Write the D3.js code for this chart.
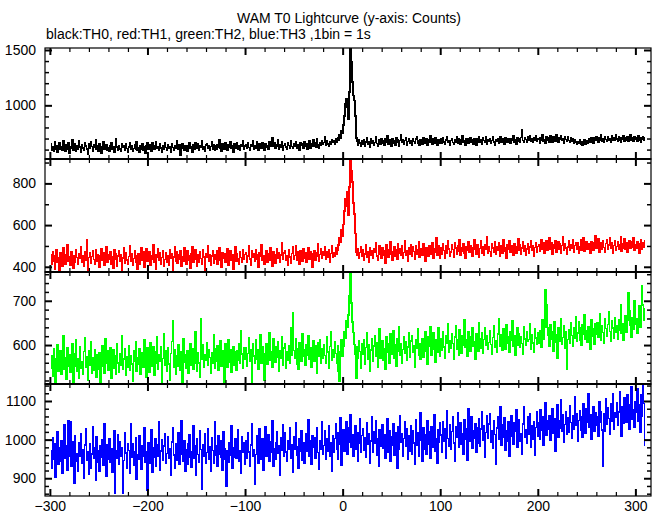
<!DOCTYPE html>
<html><head><meta charset="utf-8">
<script src="https://cdn.jsdelivr.net/npm/d3@7"></script>
<style>body{margin:0;background:#fff}svg{display:block}text{font-family:"Liberation Sans",Arial,Helvetica,sans-serif}</style>
</head><body><svg id="c" width="661" height="515"></svg>
<script>
const title = "WAM T0 Lightcurve (y-axis: Counts)";
const subtitle = "black:TH0, red:TH1, green:TH2, blue:TH3 ,1bin = 1s";
const tStart = -299;
const binSize = 1;
const xMajorTicks = [-300, -200, -100, 0, 100, 200, 300];
const seriesNames = ["TH0", "TH1", "TH2", "TH3"];
const seriesColors = ["#000000", "#ff0000", "#00ff00", "#0000ff"];
const yDomains = [[515, 1518], [375, 917], [512, 765], [854, 1144]];
const yMajorTicks = [[1000, 1500], [400, 600, 800], [600, 700], [900, 1000, 1100]];
const yMinorStep = [100, 100, 20, 20];

const th0 = [
652,596,623,585,670,607,636,572,615,658,
601,630,590,682,620,582,641,607,665,567,
628,610,687,593,618,652,585,638,604,676,
623,577,646,615,596,665,633,606,562,650,
609,668,626,588,641,617,686,599,634,582,
654,612,570,630,671,602,620,647,593,617,
585,639,660,606,626,572,614,697,622,598,
636,607,586,657,617,631,596,650,610,575,
622,665,601,636,583,612,646,606,671,593,
618,578,638,607,652,598,625,564,633,660,
604,646,617,583,660,627,599,636,673,612,
630,591,651,615,579,638,603,663,620,596,
644,609,627,572,655,617,590,635,614,681,
623,599,643,545,609,652,630,595,638,615,
587,631,660,614,625,575,646,604,665,622,
611,649,593,635,619,676,601,628,583,643,
655,615,636,598,627,667,607,644,590,631,
604,641,620,691,612,585,651,625,606,662,
628,595,647,617,673,609,633,580,654,623,
614,659,603,636,590,644,627,681,607,633,
642,608,659,621,595,648,629,682,606,635,
616,669,624,590,651,634,610,664,640,598,
656,619,638,602,675,626,646,705,634,661,
611,648,627,688,605,640,618,667,594,637,
653,622,600,658,635,614,682,629,608,650,
630,670,610,645,624,595,664,638,653,616,
669,629,650,603,638,680,616,656,630,690,
634,658,621,700,644,615,664,636,682,650,
664,715,640,684,652,628,673,648,692,662,
680,648,698,662,710,684,735,705,770,745,
820,905,1010,1060,985,870,1120,1510,1395,1210,
1090,1045,905,705,676,641,691,660,633,683,
651,692,633,670,705,646,675,624,699,660,
684,638,665,715,656,630,689,672,648,702,
657,678,635,696,668,723,649,686,664,628,
697,654,676,640,705,667,688,633,680,737,
664,691,646,681,708,636,672,699,657,684,
643,702,673,654,694,716,659,680,635,689,
670,649,707,678,656,697,641,686,667,726,
676,652,694,659,704,670,641,689,681,654,
694,659,705,670,648,688,715,665,683,641,
680,702,662,644,691,668,712,656,697,673,
652,688,726,667,681,641,702,676,659,696,
708,665,686,651,700,678,640,694,670,715,
662,689,652,704,680,667,718,649,692,675,
697,656,683,712,668,643,691,673,702,660,
684,713,664,694,672,651,705,681,662,699,
675,657,697,686,723,667,692,652,707,678,
696,670,710,780,681,664,704,689,668,713,
688,724,675,700,662,708,683,729,673,694,
698,661,710,685,731,674,691,656,715,680,
706,670,725,688,664,714,694,677,736,685,
667,707,690,726,680,701,659,718,691,672,
712,683,662,704,675,694,654,688,669,648,
672,655,690,648,675,640,668,685,652,679,
660,677,696,668,708,685,661,703,680,720,
690,669,711,684,730,676,700,663,719,693,
672,714,687,701,666,725,682,704,680,732,
696,677,717,688,670,710,692,727,679,703,
684,720,672,698,733,687,707,673,712,690,
703,677,725,685,711,668,696,719,682,704
];

const th1 = [
456,410,474,428,389,451,481,420,441,381,
466,431,402,490,440,414,460,505,427,448,
406,470,436,391,455,424,481,444,412,463,
439,497,421,451,401,474,432,530,385,445,
468,417,449,475,435,410,481,425,460,441,
397,454,486,429,466,408,444,495,422,456,
436,471,413,448,393,482,437,462,404,452,
478,425,458,380,443,489,418,467,433,410,
449,501,428,464,405,439,476,421,454,390,
462,414,445,491,431,470,400,451,485,427,
443,474,409,455,435,506,424,459,387,448,
487,429,466,413,444,478,401,436,468,420,
452,408,482,440,463,383,447,494,428,471,
416,460,437,479,402,449,425,489,440,410,
475,432,455,395,464,498,421,445,481,436,
401,456,424,472,439,412,483,447,379,463,
444,503,427,460,408,451,475,418,456,435,
479,414,448,491,431,398,468,440,463,422,
454,485,405,443,478,433,458,387,449,497,
428,464,440,412,474,445,422,481,437,459,
467,420,452,499,437,406,475,444,463,425,
483,435,459,399,468,449,506,429,453,410,
445,478,422,461,433,493,443,403,472,453,
417,460,486,439,468,424,457,514,436,466,
475,429,451,408,480,447,418,463,495,437,
455,503,433,471,440,412,478,452,428,486,
443,466,421,457,491,436,472,447,399,461,
479,432,467,449,509,426,460,488,439,470,
453,498,435,472,447,482,424,463,503,444,
468,452,491,460,478,505,540,520,580,545,
602,668,724,692,758,645,782,925,862,806,
705,652,560,472,455,486,441,468,497,452,
483,431,462,506,446,472,420,493,456,479,
439,487,468,515,452,429,474,499,460,443,
491,454,476,415,507,469,447,484,519,461,
430,472,496,450,480,435,511,465,487,456,
501,442,468,526,457,477,426,489,462,508,
452,495,473,437,503,460,483,519,445,470,
485,456,510,466,427,492,474,449,500,480,
461,514,443,488,469,539,454,479,503,439,
493,460,512,477,443,500,467,524,486,451,
470,506,482,448,517,489,458,501,475,532,
455,491,473,510,463,439,497,481,521,469,
502,474,451,493,529,485,462,508,477,446,
487,524,467,498,456,505,482,544,464,494,
473,452,509,489,470,520,458,496,479,514,
450,500,483,464,528,475,493,443,505,486,
523,471,502,481,455,512,490,467,497,535,
478,506,460,490,518,473,501,456,486,509,
466,494,525,479,502,451,492,514,471,497,
508,474,499,531,485,516,466,495,524,478,
501,537,482,513,462,504,489,526,471,497,
520,486,509,467,501,543,481,512,491,460,
495,525,477,506,487,532,470,502,517,485,
513,466,498,528,481,505,539,475,494,518,
483,509,490,463,522,499,478,514,547,487,
504,535,472,497,516,485,524,493,468,512,
529,482,505,541,490,513,467,501,526,479,
498,518,486,508,544,475,510,491,533,483,
514,471,502,525,487,520,495,540,478,506,
489,522,499,466,512,531,483,517,494,526
];

const th2 = [
548,575,530,592,558,515,569,601,541,563,
587,534,556,620,545,572,522,593,551,578,
539,566,604,512,581,553,612,540,570,525,
596,547,562,533,585,617,549,574,521,588,
555,608,537,571,544,590,563,527,579,546,
583,514,567,598,552,536,614,558,586,543,
570,595,526,561,589,548,575,533,603,559,
538,580,554,622,545,568,592,531,573,550,
599,542,576,557,518,587,563,608,540,571,
556,591,535,582,566,549,611,574,528,594,
562,539,605,577,551,596,532,584,560,619,
545,578,563,597,516,570,626,555,587,541,
593,557,520,581,608,655,549,590,534,575,
552,600,571,543,585,513,615,562,579,548,
588,536,567,604,555,592,546,573,631,559,
541,583,560,527,660,568,601,550,578,565,
606,554,589,572,537,582,559,624,547,591,
563,598,544,577,610,553,586,568,515,602,
576,549,613,561,590,539,571,597,555,584,
544,587,566,602,558,632,580,547,593,569,
595,552,581,617,563,589,517,604,575,558,
611,567,590,546,583,623,559,597,572,520,
580,603,556,591,628,565,585,549,614,576,
562,596,573,608,541,587,570,619,555,593,
602,547,584,566,599,560,640,578,672,588,
571,615,557,592,545,606,581,564,625,574,
589,554,601,577,620,568,594,550,586,610,
563,598,582,537,605,575,612,559,591,571,
600,576,558,618,584,547,597,630,566,589,
572,608,581,560,599,540,518,585,612,575,
598,630,615,655,640,668,712,768,695,652,
628,601,580,524,596,571,610,585,548,603,
579,612,556,594,627,568,600,541,589,615,
563,598,621,574,606,550,588,636,571,597,
610,566,592,545,618,583,604,559,625,580,
595,632,570,601,553,614,587,642,576,603,
558,590,619,581,607,565,596,628,572,609,
622,584,599,549,611,593,637,578,604,567,
591,614,573,603,631,585,556,618,597,642,
578,605,627,590,562,612,584,639,601,575,
614,588,631,596,571,620,605,648,583,609,
592,625,603,567,618,643,590,611,578,634,
606,581,622,600,657,594,613,575,629,602,
587,619,640,597,608,569,626,604,585,651,
615,593,628,581,612,638,599,621,590,606,
632,601,579,617,644,596,610,584,625,660,
597,623,607,588,636,612,591,645,603,618,
584,630,611,654,598,621,576,609,639,600,
626,595,619,603,580,642,614,599,631,608,
612,649,590,624,605,583,637,616,601,628,
605,633,619,596,658,612,640,724,690,640,
621,598,645,614,630,587,652,606,624,571,
638,609,626,660,601,617,643,592,629,545,
612,635,604,651,622,597,640,616,663,608,
627,653,610,638,599,645,624,668,614,632,
606,641,626,590,657,619,636,602,648,625,
650,617,633,671,611,644,628,603,659,637,
620,646,675,631,609,654,639,616,662,628,
643,612,657,634,692,626,649,611,638,666,
630,655,718,678,644,617,661,635,700,648,
659,627,652,688,641,670,735,690,656,682
];

const th3 = [
970,925,1005,948,988,902,961,1020,935,979,
944,996,912,967,1038,951,983,921,1050,958,
1047,930,972,995,886,1010,945,963,918,992,
956,1015,939,974,901,986,1028,947,968,911,
990,926,963,1034,952,979,895,1008,941,970,
917,983,955,999,933,1042,964,906,987,949,
1002,941,976,915,960,1024,860,971,953,1012,
937,995,958,980,862,946,1018,965,927,989,
972,913,1040,955,990,934,968,1006,898,961,
948,1011,976,924,985,957,1030,942,969,870,
993,940,967,1025,916,978,955,1003,930,986,
958,1045,921,970,999,947,983,1016,938,964,
1008,951,977,909,994,1032,960,925,988,946,
971,1019,935,962,1050,984,943,997,919,975,
936,990,1012,955,928,969,1037,952,983,907,
1001,961,942,1023,974,872,987,958,1014,939,
966,1028,950,981,917,1004,972,940,1046,959,
985,932,1009,963,996,954,920,1021,977,948,
880,970,941,992,960,1035,925,980,955,1002,
952,988,1026,943,971,912,1007,966,993,937,
998,951,1019,968,930,986,1042,957,975,885,
962,1010,984,939,1027,973,948,1001,921,989,
1033,958,980,1012,945,994,967,1048,931,976,
950,992,1021,964,985,908,1005,972,1039,956,
1017,968,943,997,976,1030,952,987,915,1008,
974,1043,960,982,927,1003,969,1024,946,991,
938,984,1015,970,1052,958,996,936,1011,979,
1006,953,989,1031,966,922,998,975,1045,961,
985,1022,948,1001,969,1036,957,993,918,1010,
966,1003,1040,975,950,1018,987,1057,934,999,
1025,971,1008,1046,962,994,1031,1065,980,1013,
958,1002,1037,976,1019,944,990,1053,968,1011,
1029,973,1006,955,1044,988,1015,940,996,1060,
967,1021,990,1048,959,1003,932,1026,984,1011,
1038,977,1012,951,999,1055,968,1024,945,1007,
986,1041,960,1019,997,926,1033,975,1062,994,
1015,957,1003,1046,982,1028,949,1010,971,1037,
963,1022,991,936,1051,985,1017,958,1004,1070,
998,944,1030,976,1013,962,1049,988,1021,953,
1034,981,1008,1064,970,1001,939,1026,992,1043,
1012,968,1047,996,1029,952,1075,1003,984,1038,
974,1021,1058,991,945,1034,1006,1069,980,1017,
1043,987,1015,961,1052,1000,1028,947,1081,995,
1009,1060,978,1024,1003,1040,966,1031,990,1055,
983,1027,1072,998,1035,955,1018,1063,1004,1041,
1066,992,1022,977,1049,1013,937,1030,1058,1001,
1019,1085,985,1039,1007,1056,973,1024,996,1047,
958,1033,1061,1010,988,1044,1021,1078,979,1029,
1052,997,1016,963,1040,1084,1005,1026,990,1059,
1014,1068,981,1037,1002,1045,960,1031,1073,1008,
1043,1002,1077,1025,1058,986,1036,1095,1012,1050,
1028,1063,999,1041,1080,1016,1054,970,1035,1089,
1007,1048,1030,1102,1021,1065,994,1039,1071,1013,
1056,1019,1087,1044,1003,1061,1028,1110,1037,1068,
995,1049,1075,1023,1058,1006,1092,1040,1016,1079,
1045,1118,1031,1064,1000,1053,1085,1022,1070,1038,
1060,1010,1097,1046,1072,1025,931,1067,1021,1105,
1039,1082,1055,1014,1093,1048,1120,1027,1069,1058,
1095,1036,1071,1124,1050,1009,1084,1043,1108,1062,
1044,1115,1065,1026,1090,1136,1053,1078,1031,1099,
1072,1131,1048,1089,1020,1117,1061,1140,1094,985
];

const series = [th0, th1, th2, th3];

const svg = d3.select("#c");
const left = 45, right = 651;
const bounds = [48, 159, 272, 384, 496];
const x = d3.scaleLinear().domain([-305, 316]).range([left, right]);
const xMinorTicks = d3.range(-300, 316, 20).filter(v => xMajorTicks.indexOf(v) < 0);
const FONT = '"Liberation Sans", Arial, Helvetica, sans-serif';
const fmt = d3.format("d");

function drawAxis(gen, transform, values, size, width, showLabels, pad) {
  gen.tickValues(values).tickSize(size).tickPadding(pad).tickFormat(showLabels ? fmt : "");
  const g = svg.append("g").attr("transform", transform).call(gen);
  g.select(".domain").remove();
  g.selectAll(".tick line").attr("stroke", "#000").attr("stroke-width", width);
  g.selectAll(".tick text").attr("font-size", 14).attr("fill", "#000").attr("font-family", FONT);
  return g;
}

series.forEach((vals, i) => {
  const top = bounds[i], bottom = bounds[i + 1];
  const y = d3.scaleLinear().domain(yDomains[i]).range([bottom, top]);
  svg.append("clipPath").attr("id", "clip" + i).append("rect")
    .attr("x", left).attr("y", top).attr("width", right - left).attr("height", bottom - top);
  const line = d3.line().curve(d3.curveStep).x((d, j) => x(tStart + j * binSize)).y(d => y(d));
  svg.append("path").datum(vals).attr("clip-path", `url(#clip${i})`)
    .attr("fill", "none").attr("stroke", seriesColors[i]).attr("stroke-width", 1.5)
    .attr("shape-rendering", "crispEdges").attr("d", line);

  const yMinor = d3.range(Math.ceil(yDomains[i][0] / yMinorStep[i]) * yMinorStep[i], yDomains[i][1] + 1, yMinorStep[i])
    .filter(v => yMajorTicks[i].indexOf(v) < 0);

  drawAxis(d3.axisBottom(x), `translate(0,${bottom})`, xMinorTicks, -4, 1.2, false, 3);
  drawAxis(d3.axisBottom(x), `translate(0,${bottom})`, xMajorTicks, -7, 2, i === 3, 5);
  drawAxis(d3.axisTop(x), `translate(0,${top})`, xMinorTicks, -4, 1.2, false, 3);
  drawAxis(d3.axisTop(x), `translate(0,${top})`, xMajorTicks, -7, 2, false, 3);
  drawAxis(d3.axisLeft(y), `translate(${left},0)`, yMinor, -4, 1.5, false, 3);
  drawAxis(d3.axisLeft(y), `translate(${left},0)`, yMajorTicks[i], -7, 2, true, 9);
  drawAxis(d3.axisRight(y), `translate(${right},0)`, yMinor, -4, 1.5, false, 3);
  drawAxis(d3.axisRight(y), `translate(${right},0)`, yMajorTicks[i], -7, 2, false, 3);

  svg.append("rect").attr("x", left).attr("y", top).attr("width", right - left).attr("height", bottom - top)
    .attr("fill", "none").attr("stroke", "#000").attr("stroke-width", 1.2);
});
bounds.slice(1, 4).forEach(b => {
  svg.append("line").attr("x1", left).attr("x2", right).attr("y1", b).attr("y2", b)
    .attr("stroke", "#000").attr("stroke-width", 2);
});

svg.append("text").attr("x", 349).attr("y", 23).attr("text-anchor", "middle")
  .attr("font-size", 14).attr("font-family", FONT).text(title);
svg.append("text").attr("x", 46).attr("y", 39).attr("text-anchor", "start")
  .attr("font-size", 14).attr("font-family", FONT).text(subtitle);
</script>
</body></html>
